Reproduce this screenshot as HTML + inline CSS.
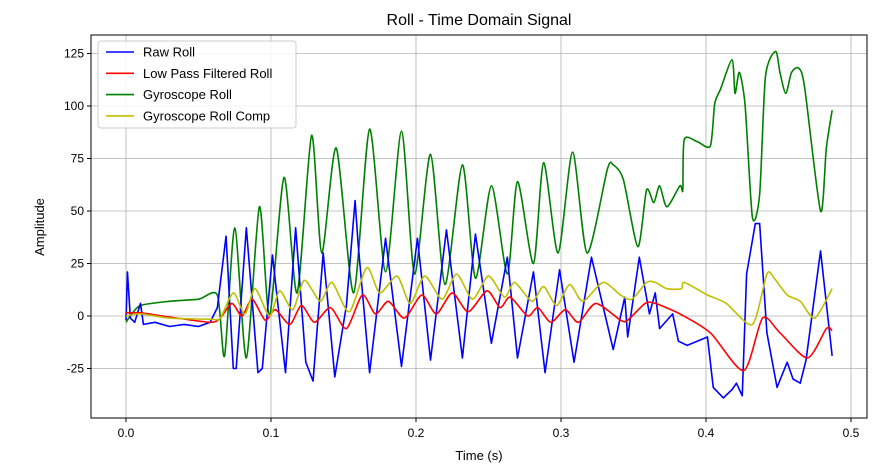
<!DOCTYPE html>
<html><head><meta charset="utf-8"><style>
body{margin:0;background:#fff}
svg{font-family:"Liberation Sans","DejaVu Sans",sans-serif}
</style></head><body>
<svg id="chart" width="885" height="467" viewBox="0 0 885 467" xmlns="http://www.w3.org/2000/svg">
<rect width="885" height="467" fill="#fff"/>
<text x="479" y="25" text-anchor="middle" font-size="16">Roll - Time Domain Signal</text>
<g id="grid"></g>
<g id="series"></g>
<rect x="91" y="35" width="776" height="383" fill="none" stroke="#000" stroke-width="1"/>
<g id="ticks"></g>
<text x="479" y="460" text-anchor="middle" font-size="13">Time (s)</text>
<text transform="translate(44,227) rotate(-90)" text-anchor="middle" font-size="13">Amplitude</text>
<g id="legend"></g>
</svg>
<script>
const xTicks=[0,0.1,0.2,0.3,0.4,0.5];
const xTickLabels=["0.0","0.1","0.2","0.3","0.4","0.5"];
const yTicks=[-25,0,25,50,75,100,125];
const seriesNames=["Raw Roll","Low Pass Filtered Roll","Gyroscope Roll","Gyroscope Roll Comp"];
const seriesColors=["#0000ff","#ff0000","#008000","#bfbf00"];
const rawT=[0,0.001,0.003,0.006,0.01,0.012,0.02,0.03,0.04,0.05,0.058,0.063,0.069,0.074,0.076,0.083,0.091,0.094,0.101,0.11,0.117,0.124,0.129,0.136,0.144,0.152,0.158,0.16,0.168,0.179,0.19,0.201,0.21,0.221,0.232,0.241,0.252,0.263,0.27,0.281,0.289,0.299,0.309,0.321,0.336,0.344,0.346,0.354,0.361,0.365,0.368,0.377,0.381,0.387,0.401,0.405,0.412,0.418,0.421,0.425,0.428,0.434,0.437,0.442,0.449,0.456,0.46,0.465,0.469,0.479,0.487];
const rawV=[-2,21,-1,-3,6,-4,-3,-5,-4,-5,-3,4,38,-25,-25,42,-27,-25,29,-27,42,-22,-31,30,-29,5,55,35,-27,37,-24,37,-21,41,-20,39,-13,28,-20,21,-27,22,-22,28,-16,9,-10,28,1,11,-6,1,-12,-14,-10,-34,-39,-35,-32,-38,20,44,44,-8,-34,-22,-30,-32,-21,31,-19];
const lpfT=[0,0.01,0.03,0.058,0.065,0.073,0.08,0.087,0.096,0.103,0.113,0.121,0.13,0.141,0.152,0.163,0.172,0.181,0.192,0.204,0.214,0.225,0.236,0.249,0.258,0.265,0.277,0.284,0.293,0.303,0.312,0.324,0.341,0.346,0.358,0.365,0.382,0.403,0.426,0.439,0.451,0.47,0.483,0.487];
const lpfV=[1.5,1.5,-0.5,-3,-1,6,0,8,-2,3,-4,5,-3,4,-6,10,1,7,-1,10,1,11,2,12,4,9,0,4,-3,3,-3,6,-2,-2,6,6,1,-8,-26,-1,-8,-20,-6,-7];
const gyroT=[0,0.003,0.01,0.03,0.05,0.063,0.068,0.075,0.083,0.092,0.099,0.109,0.118,0.128,0.135,0.145,0.157,0.168,0.179,0.19,0.199,0.21,0.22,0.232,0.241,0.252,0.263,0.27,0.281,0.288,0.298,0.308,0.318,0.332,0.336,0.343,0.353,0.359,0.364,0.368,0.373,0.382,0.384,0.385,0.394,0.403,0.406,0.41,0.418,0.42,0.423,0.427,0.432,0.437,0.441,0.448,0.451,0.455,0.459,0.464,0.468,0.479,0.483,0.487];
const gyroV=[-3,0,5,7,8,10,-19,42,-20,52,0,66,11,86,30,80,11,89,21,88,20,77,15,72,18,62,20,64,25,73,30,78,30,70,72,65,33,60,54,62,52,62,60,84,83,81,101,108,122,106,116,100,47,58,114,126,116,106,116,118,109,50,80,98];
const compT=[0,0.01,0.03,0.058,0.065,0.074,0.082,0.089,0.099,0.106,0.115,0.123,0.134,0.142,0.154,0.166,0.175,0.187,0.196,0.206,0.218,0.228,0.239,0.25,0.261,0.268,0.28,0.288,0.297,0.306,0.315,0.329,0.341,0.349,0.359,0.365,0.373,0.383,0.385,0.401,0.414,0.432,0.442,0.447,0.456,0.465,0.475,0.487];
const compV=[0,1,-1,-1.5,-1,11,1,13,0,12,3,17,7,16,2,23,11,19,6,19,8,20,8,19,9,16,7,14,5,15,7,16,10,8,16,16,13,13,16,10,6,-4,20,18,10,7,-1,13];

const X0=126,XS=1450,Y0=316,YS=2.1;
function xs(t){return X0+t*XS;}
function ys(v){return Y0-v*YS;}
const NS="http://www.w3.org/2000/svg";
function mk(tag,attrs,parent){const e=document.createElementNS(NS,tag);for(const k in attrs)e.setAttribute(k,attrs[k]);parent.appendChild(e);return e;}
const grid=document.getElementById('grid'),ticks=document.getElementById('ticks');
xTicks.forEach((t,i)=>{
  const g=mk('line',{x1:xs(t),x2:xs(t),y1:35,y2:418,stroke:'#b0b0b0','stroke-width':0.8},grid);
  
  
  mk('line',{x1:xs(t),x2:xs(t),y1:418,y2:422,stroke:'#000'},ticks);
  const l=mk('text',{x:xs(t),y:437,'text-anchor':'middle','font-size':12},ticks);
  l.textContent=xTickLabels[i];
  
  
});
yTicks.forEach(v=>{
  const g=mk('line',{x1:91,x2:867,y1:ys(v),y2:ys(v),stroke:'#b0b0b0','stroke-width':0.8},grid);
  
  
  mk('line',{x1:87,x2:91,y1:ys(v),y2:ys(v),stroke:'#000'},ticks);
  const l=mk('text',{x:84,y:ys(v)+4,'text-anchor':'end','font-size':12},ticks);
  l.textContent=String(v);
  
  
});
function smooth(T,V,k){
  const p=T.map((t,i)=>[xs(t),ys(V[i])]);
  let d='M'+p[0][0]+','+p[0][1];
  for(let i=0;i<p.length-1;i++){
    const a=p[Math.max(0,i-1)],b=p[i],c=p[i+1],e=p[Math.min(p.length-1,i+2)];
    const c1=[b[0]+(c[0]-a[0])*k,b[1]+(c[1]-a[1])*k],c2=[c[0]-(e[0]-b[0])*k,c[1]-(e[1]-b[1])*k];
    d+=' C'+c1[0]+','+c1[1]+' '+c2[0]+','+c2[1]+' '+c[0]+','+c[1];
  }
  return d;
}
const sg=document.getElementById('series');
const data=[[rawT,rawV],[lpfT,lpfV],[gyroT,gyroV],[compT,compV]];
const tension=[0,1/8,1/8,1/8];
const sNames=['raw-roll-line','low-pass-roll-line','gyroscope-roll-line','gyroscope-roll-comp-line'];
[2,0,1,3].forEach(i=>{
  const p=mk('path',{d:smooth(data[i][0],data[i][1],tension[i]),fill:'none',stroke:seriesColors[i],'stroke-width':1.6,'stroke-linejoin':'round'},sg);
  
  
});
const lg=document.getElementById('legend');
const box=mk('rect',{x:98,y:41,width:198,height:87,rx:3,fill:'#fff','fill-opacity':0.85,stroke:'#ccc'},lg);


seriesNames.forEach((n,i)=>{
  const y=52+i*21.3;
  const ln=mk('line',{x1:106,x2:134,y1:y,y2:y,stroke:seriesColors[i],'stroke-width':1.6},lg);
  
  
  const t=mk('text',{x:143,y:y+4.5,'font-size':13},lg);
  t.textContent=n;
  
  
});
</script>
</body></html>
